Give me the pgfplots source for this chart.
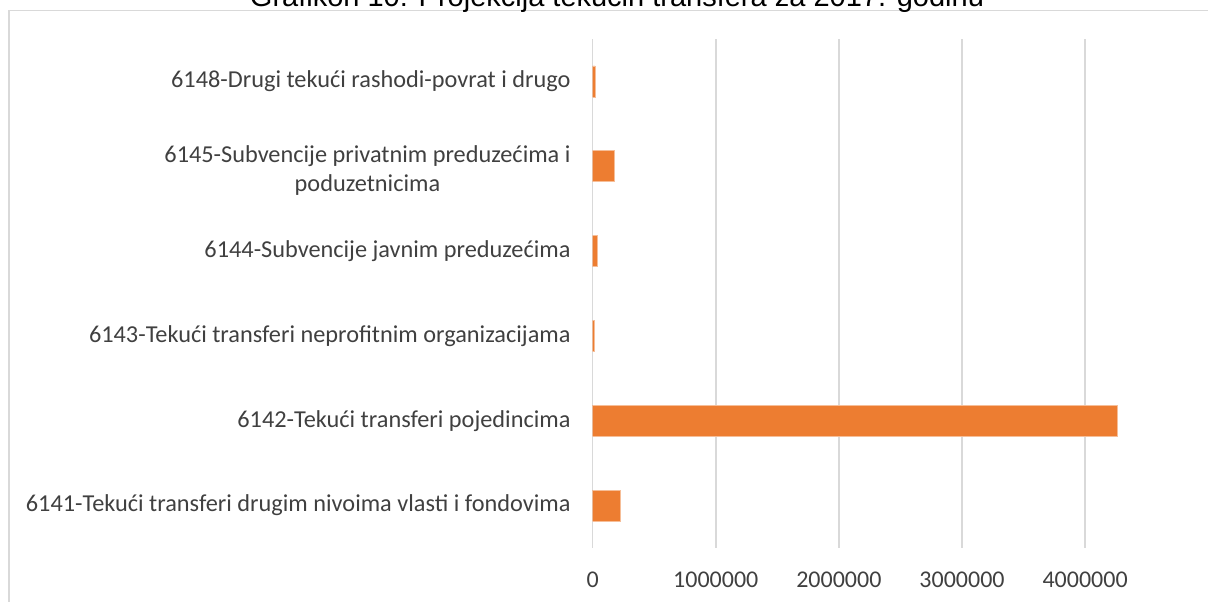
\documentclass[border=0pt]{standalone}
\usepackage{pgfplots}
\pgfplotsset{compat=1.18}
\usepackage{fontspec}
\setmainfont{Carlito}
\newfontfamily\titlefont{Liberation Sans}
\definecolor{barorange}{HTML}{ED7D31}
\definecolor{barlight}{HTML}{F6BE98}
\definecolor{gridgray}{HTML}{D9D9D9}
\definecolor{labelgray}{HTML}{404040}
\begin{document}
\begin{tikzpicture}[x=1pt,y=1pt]
\useasboundingbox (0,0) rectangle (1208,602);
\draw[gridgray, line width=1.2pt] (9,-10) -- (9,591.5) -- (1220,591.5);
\node[font=\titlefont\fontsize{29}{34}\selectfont, anchor=base, text=black] at (617,595) {Grafikon 10: Projekcija tekućih transfera za 2017. godinu};
\begin{axis}[
  at={(592.7pt,54pt)}, anchor=south west,
  scale only axis, width=615.5pt, height=509pt,
  xmin=0, xmax=5000000, ymin=-0.5, ymax=5.5,
  xbar, bar width=31pt,
  axis line style={draw=none},
  major tick length=0pt,
  scaled x ticks=false,
  xtick={0,1000000,2000000,3000000,4000000},
  xticklabels={0,1000000,2000000,3000000,4000000},
  ytick={0,1,2,3,5},
  yticklabels={6141-Tekući transferi drugim nivoima vlasti i fondovima,
               6142-Tekući transferi pojedincima,
               6143-Tekući transferi neprofitnim organizacijama,
               6144-Subvencije javnim preduzećima,
               6148-Drugi tekući rashodi-povrat i drugo},
  extra y ticks={4},
  extra y tick labels={{6145-Subvencije privatnim preduzećima i\\poduzetnicima}},
  extra y tick style={yticklabel style={yshift=-4pt}},
  xmajorgrids, ymajorgrids=false,
  grid style={gridgray, line width=1.5pt},
  yticklabel style={font=\fontsize{24.3}{29}\selectfont, text=labelgray, align=center, anchor=east, inner sep=0pt, xshift=-22pt},
  xticklabel style={font=\fontsize{24}{29}\selectfont, text=labelgray, anchor=north, inner sep=0pt, yshift=-24pt},
]
\addplot[fill=barorange, draw=barlight, line width=0.6pt] coordinates {
  (222000,0) (4262000,1) (11000,2) (41000,3) (176000,4) (19000,5)
};
\end{axis}
\end{tikzpicture}
\end{document}
